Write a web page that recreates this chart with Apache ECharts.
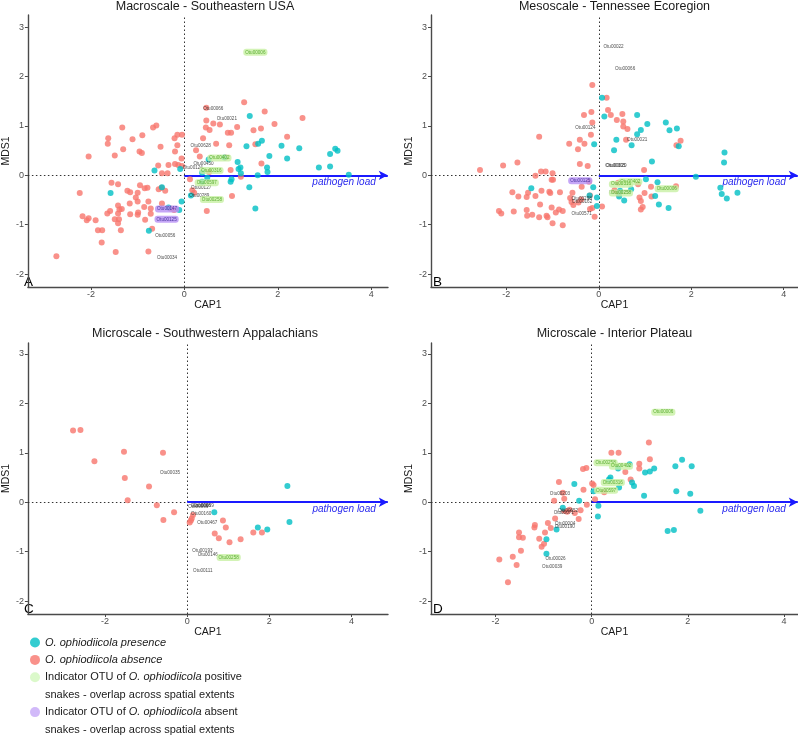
<!DOCTYPE html>
<html><head><meta charset="utf-8">
<script src="https://cdn.jsdelivr.net/npm/echarts@6/dist/echarts.min.js"></script>
<style>html,body{margin:0;padding:0;background:#fff}#c{width:798px;height:736px}</style>
</head><body><div id="c"></div>
<script>
// ---------- Panel titles / letters ----------
const panelTitles = ['Macroscale - Southeastern USA','Mesoscale - Tennessee Ecoregion','Microscale - Southwestern Appalachians','Microscale - Interior Plateau'];
const panelLetters = ['A','B','C','D'];
const xTicks = [-2,0,2,4];
const yTicks = [-2,-1,0,1,2,3];
const xRanges = [[-3.35,4.36],[-3.63,4.31],[-3.88,4.89],[-3.34,4.29]];
const yRanges = [[-2.26,3.245],[-2.26,3.245],[-2.26,3.22],[-2.26,3.22]];

// ---------- Panel A ----------
const aAbsence = [[-2.74,-1.64],[-2.24,-0.36],[-2.18,-0.83],[-2.05,0.38],[-2.09,-0.91],[-2.05,-0.87],[-1.90,-0.91],[-1.85,-1.11],[-1.76,-1.11],[-1.77,-1.36],[-1.63,0.75],[-1.64,0.64],[-1.65,-0.77],[-1.59,-0.72],[-1.56,-0.15],[-1.49,0.40],[-1.49,-0.89],[-1.47,-1.55],[-1.42,-0.18],[-1.42,-0.61],[-1.42,-0.77],[-1.40,-0.89],[-1.42,-0.97],[-1.36,-1.11],[-1.39,-0.69],[-1.34,-0.68],[-1.33,0.97],[-1.31,0.53],[-1.22,-0.31],[-1.16,-0.34],[-1.17,-0.57],[-1.16,-0.79],[-1.11,0.73],[-1.04,-0.45],[-1.00,-0.35],[-1.00,-0.53],[-0.99,-0.75],[-1.00,-0.80],[-0.96,0.48],[-0.95,-0.20],[-0.91,0.45],[-0.90,0.81],[-0.85,-0.26],[-0.79,-0.25],[-0.86,-0.64],[-0.84,-0.90],[-0.77,-0.53],[-0.77,-1.54],[-0.72,-0.67],[-0.72,-0.78],[-0.69,-1.08],[-0.67,0.97],[-0.60,1.01],[-0.51,0.58],[-0.56,0.20],[-0.55,-0.28],[-0.48,0.04],[-0.49,-0.25],[-0.48,-0.57],[-0.41,-0.31],[-0.36,0.04],[-0.34,0.21],[-0.30,-0.67],[-0.22,-0.70],[-0.21,0.75],[-0.20,0.48],[-0.20,0.23],[-0.15,0.61],[-0.15,0.82],[-0.13,0.21],[-0.05,0.82],[-0.06,0.34],[-0.05,0.19],[0.12,-0.08],[0.25,0.51],[0.21,-0.35],[0.33,0.38],[0.40,0.75],[0.47,1.37],[0.47,1.11],[0.46,0.97],[0.54,0.92],[0.62,1.05],[0.48,-0.72],[0.68,0.64],[0.76,1.03],[0.88,0.36],[0.93,0.86],[1.00,0.86],[0.96,0.61],[0.99,0.11],[1.02,-0.42],[1.13,0.98],[1.21,-0.03],[1.28,1.48],[1.48,0.91],[1.52,0.63],[1.64,0.95],[1.65,0.24],[1.72,1.29],[1.93,1.04],[2.20,0.78],[2.53,1.16],[0.53,0.07],[0.17,-0.30]];
const aPresence = [[-1.58,-0.36],[-0.64,0.10],[-0.48,-0.24],[-0.76,-1.12],[-0.34,-0.65],[-0.11,-0.70],[-0.06,-0.53],[-0.09,0.13],[0.14,-0.41],[0.38,0.05],[0.52,0.32],[0.49,-0.05],[0.38,-0.13],[0.86,0.36],[0.99,-0.13],[1.01,-0.08],[1.14,0.27],[1.16,0.13],[1.20,0.16],[1.21,0.04],[1.33,0.59],[1.40,1.20],[1.39,-0.24],[1.52,-0.67],[1.57,0.00],[1.58,0.64],[1.66,0.70],[1.77,0.16],[1.78,0.07],[1.82,0.39],[2.08,0.60],[2.20,0.34],[2.46,0.55],[2.88,0.16],[3.12,0.43],[3.12,0.18],[3.23,0.54],[3.28,0.50],[3.52,0.01]];
const aLabelsPlain = [[0.62,1.35,'Otu00066'],[0.91,1.14,'Otu00021'],[0.35,0.59,'Otu00628'],[0.41,0.23,'Otu00450'],[0.18,0.15,'Otu00124'],[0.36,-0.25,'Otu00127'],[0.32,-0.42,'Otu00289'],[-0.41,-1.23,'Otu00056'],[-0.37,-1.67,'Otu00034']];
const aLabelsPos = [[1.52,2.49,'Otu00006'],[0.75,0.35,'Otu00402'],[0.58,0.10,'Otu00316'],[0.48,-0.15,'Otu00597'],[0.59,-0.49,'Otu00258']];
const aLabelsAbs = [[-0.37,-0.68,'Otu00147'],[-0.38,-0.89,'Otu00125']];

// ---------- Panel B ----------
const bAbsence = [[-2.57,0.11],[-2.16,-0.72],[-2.11,-0.77],[-2.07,0.20],[-1.87,-0.34],[-1.84,-0.73],[-1.76,0.26],[-1.74,-0.43],[-1.56,-0.44],[-1.56,-0.70],[-1.55,-0.82],[-1.53,-0.35],[-1.44,-0.80],[-1.37,-0.42],[-1.37,-0.01],[-1.29,0.78],[-1.29,-0.85],[-1.27,-0.59],[-1.25,0.08],[-1.24,-0.31],[-1.15,0.08],[-1.13,-0.82],[-1.11,-0.85],[-1.07,-0.33],[-1.05,-0.36],[-1.02,-0.09],[-1.02,-0.65],[-1.00,0.04],[-0.99,-0.09],[-1.00,-0.97],[-0.93,-0.75],[-0.84,-0.34],[-0.86,-0.69],[-0.78,-1.01],[-0.78,-0.72],[-0.64,0.64],[-0.62,-0.46],[-0.59,-0.54],[-0.57,-0.35],[-0.55,-0.60],[-0.44,-0.55],[-0.41,0.23],[-0.45,0.53],[-0.41,0.72],[-0.38,-0.49],[-0.37,-0.23],[-0.32,1.22],[-0.31,0.64],[-0.24,0.19],[-0.21,-0.13],[-0.19,-0.41],[-0.17,0.82],[-0.16,1.28],[-0.14,1.07],[-0.14,1.83],[-0.19,-0.68],[-0.14,-0.66],[-0.09,-0.84],[0.07,-0.63],[0.17,1.57],[0.20,1.32],[0.26,1.22],[0.39,1.12],[0.51,1.24],[0.53,1.09],[0.53,0.99],[0.62,0.94],[0.59,0.72],[0.34,-0.30],[0.43,-0.39],[0.42,-0.15],[0.85,-0.18],[0.88,-0.45],[0.91,-0.52],[0.91,-0.69],[0.95,-0.64],[0.98,0.11],[0.99,-0.36],[1.13,-0.23],[1.14,-0.43],[1.77,0.70],[1.68,0.61],[1.67,-0.22]];
const bPresence = [[-1.46,-0.26],[-0.12,-0.24],[-0.10,0.63],[-0.20,-0.41],[-0.04,-0.45],[-0.04,-0.62],[0.07,1.57],[0.12,1.19],[0.33,0.51],[0.38,0.72],[0.46,-0.31],[0.44,-0.43],[0.55,-0.51],[0.70,-0.28],[0.71,0.61],[0.83,1.22],[0.83,0.83],[0.91,0.92],[1.02,-0.08],[1.05,1.04],[1.15,0.28],[1.22,-0.42],[1.27,-0.14],[1.30,-0.59],[1.45,1.07],[1.51,-0.66],[1.53,0.91],[1.69,0.95],[1.73,0.59],[2.10,-0.03],[2.63,-0.25],[2.66,-0.38],[2.72,0.46],[2.71,0.26],[2.77,-0.47],[3.00,-0.35]];
const bLabelsPlain = [[0.32,2.61,'Otu00022'],[0.57,2.15,'Otu00066'],[-0.29,0.97,'Otu00124'],[0.83,0.73,'Otu00021'],[0.36,0.19,'Otu00305'],[0.38,0.19,'Otu00020'],[0.44,-0.35,'Otu00289'],[-0.37,-0.47,'Otu00298'],[-0.36,-0.53,'Otu00162'],[-0.37,-0.77,'Otu00571']];
const bLabelsPos = [[0.68,-0.13,'Otu00402'],[0.48,-0.18,'Otu00316'],[0.48,-0.36,'Otu00258'],[1.47,-0.27,'Otu00006']];
const bLabelsAbs = [[-0.40,-0.11,'Otu00125']];

// ---------- Panel C ----------
const cAbsence = [[-2.78,1.45],[-2.60,1.46],[-2.26,0.83],[-1.54,1.02],[-1.52,0.49],[-1.45,0.04],[-0.93,0.32],[-0.74,-0.06],[-0.59,1.00],[-0.58,-0.36],[-0.32,-0.20],[0.06,-0.41],[0.09,-0.37],[0.11,-0.33],[0.14,-0.26],[0.67,-0.63],[0.77,-0.73],[0.87,-0.37],[0.94,-0.51],[1.03,-0.81],[1.30,-0.75],[1.61,-0.61],[1.82,-0.61]];
const cPresence = [[0.66,-0.20],[1.72,-0.51],[1.95,-0.55],[2.44,0.33],[2.49,-0.40]];
const cLabelsPlain = [[-0.42,0.59,'Otu00035'],[0.27,-0.09,'Otu00066'],[0.33,-0.08,'Otu00068'],[0.40,-0.08,'Otu00069'],[0.34,-0.24,'Otu00160'],[0.49,-0.41,'Otu00467'],[0.37,-0.98,'Otu00193'],[0.50,-1.07,'Otu00146'],[0.38,-1.38,'Otu00111']];
const cLabelsPos = [[1.01,-1.12,'Otu00258']];

// ---------- Panel D ----------
const dAbsence = [[-1.92,-1.16],[-1.74,-1.62],[-1.64,-1.10],[-1.56,-1.27],[-1.51,-0.61],[-1.51,-0.71],[-1.43,-0.72],[-1.47,-0.98],[-1.19,-0.51],[-1.18,-0.46],[-1.09,-0.74],[-1.04,-0.90],[-0.99,-0.84],[-0.97,-0.61],[-0.91,-0.42],[-0.85,-0.52],[-0.78,0.03],[-0.76,-0.33],[-0.68,0.41],[-0.60,0.19],[-0.57,0.07],[-0.57,-0.17],[-0.51,-0.19],[-0.46,-0.15],[-0.35,-0.22],[-0.27,-0.34],[-0.23,-0.16],[-0.17,0.25],[-0.18,0.67],[-0.11,0.69],[-0.10,-0.05],[0.01,0.38],[0.04,0.35],[0.07,0.06],[0.26,0.20],[0.41,1.00],[0.56,1.00],[0.70,0.61],[0.81,0.46],[0.99,0.78],[0.99,0.68],[1.19,1.21],[1.21,0.87]];
const dPresence = [[-0.94,-1.04],[-0.94,-0.75],[-0.73,-0.55],[-0.60,-0.11],[-0.36,0.37],[-0.26,0.03],[0.04,0.22],[0.14,-0.07],[0.13,-0.29],[0.36,0.46],[0.39,0.50],[0.57,0.30],[0.55,0.68],[0.79,0.77],[0.84,0.40],[0.88,0.33],[1.09,0.13],[1.11,0.60],[1.21,0.62],[1.30,0.68],[1.58,-0.58],[1.71,-0.56],[1.74,0.73],[1.76,0.22],[1.88,0.86],[2.05,0.17],[2.08,0.73],[2.26,-0.17]];
const dLabelsPlain = [[-0.66,0.18,'Otu00203'],[-0.49,-0.17,'Otu00652'],[-0.58,-0.22,'Otu00071'],[-0.55,-0.43,'Otu00004'],[-0.56,-0.49,'Otu00190'],[-0.75,-1.14,'Otu00026'],[-0.82,-1.30,'Otu00039']];
const dLabelsPos = [[1.49,1.82,'Otu00006'],[0.29,0.80,'Otu00258'],[0.61,0.73,'Otu00402'],[0.44,0.40,'Otu00316'],[0.30,0.24,'Otu00597']];
const dLabelsAbs = [];

// ---------- Legend ----------
const nPresence = 'O. ophiodiicola presence';
const nAbsence = 'O. ophiodiicola absence';
const nPos = 'Indicator OTU of O. ophiodiicola positive';
const nPos2 = 'snakes - overlap across spatial extents';
const nAbs = 'Indicator OTU of O. ophiodiicola absent';
const nAbs2 = 'snakes - overlap across spatial extents\u200b';
const legendText = {};
legendText[nPresence] = '{i|O. ophiodiicola presence}';
legendText[nAbsence] = '{i|O. ophiodiicola absence}';
legendText[nPos] = '{n|Indicator OTU of }{i|O. ophiodiicola}{n| positive}';
legendText[nPos2] = '{n|snakes - overlap across spatial extents}';
legendText[nAbs] = '{n|Indicator OTU of }{i|O. ophiodiicola}{n| absent}';
legendText[nAbs2] = '{n|snakes - overlap across spatial extents}';

const TEAL = '#00BFC4', SALMON = '#F8766D', BLUE = '#1a1aff';
const GREEN_BG = '#c8f0a4', GREEN_TX = '#3f9e12', PURPLE_BG = '#b690f4', PURPLE_TX = '#2a168a';
const FONT = '"Liberation Sans", Arial, sans-serif';

const panels = [
  {abs:aAbsence, pres:aPresence, plain:aLabelsPlain, pos:aLabelsPos, neg:aLabelsAbs},
  {abs:bAbsence, pres:bPresence, plain:bLabelsPlain, pos:bLabelsPos, neg:bLabelsAbs},
  {abs:cAbsence, pres:cPresence, plain:cLabelsPlain, pos:cLabelsPos, neg:[]},
  {abs:dAbsence, pres:dPresence, plain:dLabelsPlain, pos:dLabelsPos, neg:dLabelsAbs}
];
const gridBoxes = [
  {left:22, top:15, width:366, height:272},
  {left:431, top:15, width:367, height:272},
  {left:22, top:343, width:366, height:271},
  {left:431, top:343, width:367, height:271}
];
const titleTops = [0, 0, 327, 327];
const yNameGaps = [7, 8.5, 12, 6.5];

const grid = [], xAxis = [], yAxis = [], series = [], title = [], graphic = [];
gridBoxes.forEach((g, i) => {
  grid.push(Object.assign({containLabel:false}, g));
  title.push({text: panelTitles[i], left: g.left + g.width/2, top: titleTops[i], textAlign:'center', padding:0,
    textStyle:{fontSize:12.5, fontWeight:'normal', color:'#1a1a1a', fontFamily:FONT}});
  graphic.push({type:'text', left: g.left + 2, top: g.top + g.height - 12,
    style:{text: panelLetters[i], fontSize:13.5, fill:'#000', fontFamily:FONT}});
  const axLine = {show:true, lineStyle:{color:'#4a4a4a', width:1.4}};
  xAxis.push({type:'value', gridIndex:i, min:xRanges[i][0], max:xRanges[i][1],
    name:'CAP1', nameLocation:'middle', nameGap:11,
    nameTextStyle:{fontSize:10.5, color:'#1a1a1a', fontFamily:FONT},
    axisLine:Object.assign({onZero:false}, axLine),
    axisTick:{show:true, length:3, lineStyle:{color:'#4a4a4a'}, customValues:xTicks},
    axisLabel:{fontSize:9, color:'#4d4d4d', margin:3, fontFamily:FONT, customValues:xTicks},
    splitLine:{show:false}});
  yAxis.push({type:'value', gridIndex:i, min:yRanges[i][0], max:yRanges[i][1],
    name:'MDS1', nameLocation:'middle', nameGap:yNameGaps[i],
    nameTextStyle:{fontSize:10.5, color:'#1a1a1a', fontFamily:FONT},
    axisLine:Object.assign({onZero:false}, axLine),
    axisTick:{show:true, length:3, lineStyle:{color:'#4a4a4a'}, customValues:yTicks},
    axisLabel:{fontSize:9, color:'#4d4d4d', margin:4, fontFamily:FONT, customValues:yTicks},
    splitLine:{show:false}});

  const p = panels[i];
  const xmax = xRanges[i][1];
  series.push({type:'scatter', name:nAbsence, xAxisIndex:i, yAxisIndex:i, data:p.abs,
    symbolSize:6, itemStyle:{color:SALMON}, z:2, silent:true,
    markLine:{silent:true, animation:false, symbol:'none', z:1,
      data:[
        {xAxis:0, lineStyle:{type:[1.5,2.5], color:'#333', width:1}, label:{show:false}},
        {yAxis:0, lineStyle:{type:[1.5,2.5], color:'#333', width:1}, label:{show:false}},
        [{coord:[0,0], symbol:'none'},
         {coord:[xmax-0.005,0], symbol:'arrow', symbolSize:[7,9],
          lineStyle:{color:BLUE, width:1.8, type:'solid'},
          label:{show:true, formatter:'pathogen load', position:'insideEndBottom', distance:[12,2],
            color:'#2a2aee', fontStyle:'italic', fontSize:10, fontFamily:FONT}}]
      ]}
  });
  series.push({type:'scatter', name:nPresence, xAxisIndex:i, yAxisIndex:i, data:p.pres,
    symbolSize:6, itemStyle:{color:TEAL}, z:3, silent:true});
  const labelSeries = (name, data, bg, tx, z) => ({
    type:'scatter', name:name, xAxisIndex:i, yAxisIndex:i, data:data, symbolSize:1, z:z, silent:true,
    itemStyle:{color:'rgba(0,0,0,0)'},
    label:{show:true, position:'inside', formatter:(q)=>q.value[2], fontSize:4.6, color:tx,
      fontFamily:FONT, backgroundColor:bg || 'transparent', padding:bg?[1,2]:0, borderRadius:3}
  });
  series.push(labelSeries('otu labels', p.plain, null, '#222', 5));
  series.push(labelSeries(nPos, p.pos, GREEN_BG, GREEN_TX, 6));
  series.push(labelSeries(nAbs, p.neg, PURPLE_BG, PURPLE_TX, 6));
});
series.push({type:'scatter', name:nPos2, xAxisIndex:0, yAxisIndex:0, data:[]});
series.push({type:'scatter', name:nAbs2, xAxisIndex:0, yAxisIndex:0, data:[]});

const option = {
  animation:false,
  backgroundColor:'#fff',
  title, grid, xAxis, yAxis, series, graphic,
  legend:{
    orient:'vertical', left:30, top:636, height:130, itemWidth:10, itemHeight:10, itemGap:4.4,
    padding:0, selectedMode:false,
    data:[
      {name:nPresence, icon:'circle', itemStyle:{color:TEAL}},
      {name:nAbsence, icon:'circle', itemStyle:{color:SALMON}},
      {name:nPos, icon:'circle', itemStyle:{color:'#d2f8bd'}},
      {name:nPos2, icon:'circle', itemStyle:{color:'rgba(0,0,0,0)'}},
      {name:nAbs, icon:'circle', itemStyle:{color:'#c6a8f7'}},
      {name:nAbs2, icon:'circle', itemStyle:{color:'rgba(0,0,0,0)'}}
    ],
    formatter:(name)=>legendText[name],
    textStyle:{fontSize:11, lineHeight:13, color:'#1a1a1a', fontFamily:FONT,
      rich:{i:{fontStyle:'italic', fontSize:11, color:'#1a1a1a', fontFamily:FONT},
            n:{fontSize:11, color:'#1a1a1a', fontFamily:FONT}}}
  }
};
const chart = echarts.init(document.getElementById('c'), null, {renderer:'canvas'});
chart.setOption(option);
</script></body></html>
